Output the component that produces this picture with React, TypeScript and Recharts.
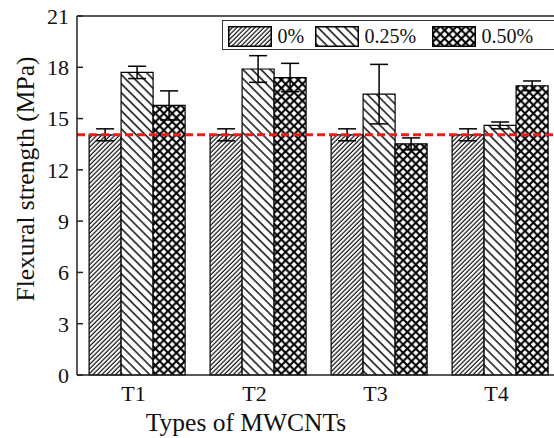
import { BarChart, Bar, XAxis, YAxis, ErrorBar, ReferenceLine, Legend } from "recharts";

const categories = ["T1", "T2", "T3", "T4"];
const seriesNames = ["0%", "0.25%", "0.50%"];
const strength0 = [14.05, 14.05, 14.05, 14.05];
const error0 = [0.35, 0.35, 0.35, 0.35];
const strength25 = [17.7, 17.9, 16.43, 14.6];
const error25 = [0.36, 0.78, 1.74, 0.2];
const strength50 = [15.77, 17.4, 13.52, 16.92];
const error50 = [0.85, 0.83, 0.35, 0.28];
const yTicks = [0, 3, 6, 9, 12, 15, 18, 21];
const controlLevel = 14.05;

const data = categories.map((name, i) => ({
  name,
  v0: strength0[i],
  e0: error0[i],
  v25: strength25[i],
  e25: error25[i],
  v50: strength50[i],
  e50: error50[i],
}));

const FONT = "'Liberation Serif', 'Times New Roman', serif";
const patternIds = ["hatch0", "hatch25", "hatch50"];

// hatch fills shared by bars and legend swatches
const Patterns = () => (
  <svg width={0} height={0} style={{ position: "absolute" }}>
    <defs>
      <pattern id="hatch0" width={3.2} height={3.2} patternUnits="userSpaceOnUse" patternTransform="rotate(45)">
        <rect width={3.2} height={3.2} fill="#fff" />
        <line x1={1} y1={0} x2={1} y2={3.2} stroke="#111" strokeWidth={1.2} />
      </pattern>
      <pattern id="hatch25" width={6.4} height={6.4} patternUnits="userSpaceOnUse" patternTransform="rotate(-45)">
        <rect width={6.4} height={6.4} fill="#fff" />
        <line x1={1} y1={0} x2={1} y2={6.4} stroke="#000" strokeWidth={1.4} />
      </pattern>
      <pattern id="hatch50" width={8.4} height={8.4} patternUnits="userSpaceOnUse">
        <rect width={8.4} height={8.4} fill="#fff" />
        <path d="M-1,-1 L9.4,9.4 M9.4,-1 L-1,9.4" stroke="#000" strokeWidth={2.1} />
      </pattern>
    </defs>
  </svg>
);

const legendLefts = [4.5, 91.5, 208.5];

const LegendBox = () => (
  <div
    style={{
      position: "relative",
      width: 360,
      height: 30,
      border: "1.5px solid #333",
      boxSizing: "border-box",
      background: "#fff",
    }}
  >
    {seriesNames.map((name, i) => (
      <div
        key={name}
        style={{ position: "absolute", left: legendLefts[i], top: 4.5, display: "flex", alignItems: "center" }}
      >
        <svg width={44} height={21}>
          <rect x={0.75} y={0.75} width={42.5} height={19.5} fill={`url(#${patternIds[i]})`} stroke="#000" strokeWidth={1.5} />
        </svg>
        <span style={{ marginLeft: 6, fontSize: 20, fontFamily: FONT, lineHeight: "21px", color: "#111" }}>{name}</span>
      </div>
    ))}
  </div>
);

const XTick = (props: any) => {
  const { x, y, payload } = props;
  return (
    <text x={x - 4} y={y} dy={16} textAnchor="middle" fontFamily={FONT} fontSize={22} fill="#111">
      {payload.value}
    </text>
  );
};

const App = () => {
  return (
    <div style={{ position: "absolute", left: 0, top: 0, width: 554, height: 438, overflow: "hidden", background: "#fff" }}>
      <Patterns />
      <BarChart
        width={580}
        height={438}
        data={data}
        margin={{ top: 16, right: 19, bottom: 0, left: 0 }}
        barCategoryGap="10%"
        barGap={0}
      >
        <XAxis
          dataKey="name"
          height={63}
          axisLine={{ stroke: "#222", strokeWidth: 1.5 }}
          tickLine={false}
          tickSize={6}
          tickMargin={4}
          tick={<XTick />}
          label={{
            content: () => (
              <text x={246} y={431} textAnchor="middle" fontFamily={FONT} fontSize={25.5} fill="#111">
                Types of MWCNTs
              </text>
            ),
          }}
        />
        <YAxis
          width={77}
          domain={[0, 21]}
          ticks={yTicks}
          interval={0}
          axisLine={{ stroke: "#222", strokeWidth: 1.5 }}
          tickLine={{ stroke: "#222", strokeWidth: 1.5, transform: "translate(6,0)" }}
          tickSize={6}
          tickMargin={2}
          tick={{ fontFamily: FONT, fontSize: 22, fill: "#111" }}
          label={{
            content: () => (
              <text
                transform="translate(25,179) rotate(-90)"
                textAnchor="middle"
                dominantBaseline="central"
                fontFamily={FONT}
                fontSize={25.5}
                fill="#111"
              >
                Flexural strength (MPa)
              </text>
            ),
          }}
        />
        <Legend
          layout="horizontal"
          verticalAlign="middle"
          align="center"
          content={() => <LegendBox />}
          wrapperStyle={{ position: "absolute", top: 20, left: 222, width: 360, height: 30 }}
        />
        <Bar dataKey="v0" name={seriesNames[0]} fill="url(#hatch0)" stroke="#000" strokeWidth={1.2} isAnimationActive={false}>
          <ErrorBar dataKey="e0" width={9} stroke="#000" strokeWidth={1.5} />
        </Bar>
        <Bar dataKey="v25" name={seriesNames[1]} fill="url(#hatch25)" stroke="#000" strokeWidth={1.2} isAnimationActive={false}>
          <ErrorBar dataKey="e25" width={9} stroke="#000" strokeWidth={1.5} />
        </Bar>
        <Bar dataKey="v50" name={seriesNames[2]} fill="url(#hatch50)" stroke="#000" strokeWidth={1.2} isAnimationActive={false}>
          <ErrorBar dataKey="e50" width={9} stroke="#000" strokeWidth={1.5} />
        </Bar>
        <ReferenceLine y={21} stroke="#222" strokeWidth={1.5} />
        <ReferenceLine y={controlLevel} stroke="#ec1c1c" strokeWidth={3} strokeDasharray="8 4" />
      </BarChart>
    </div>
  );
};

export default App;
